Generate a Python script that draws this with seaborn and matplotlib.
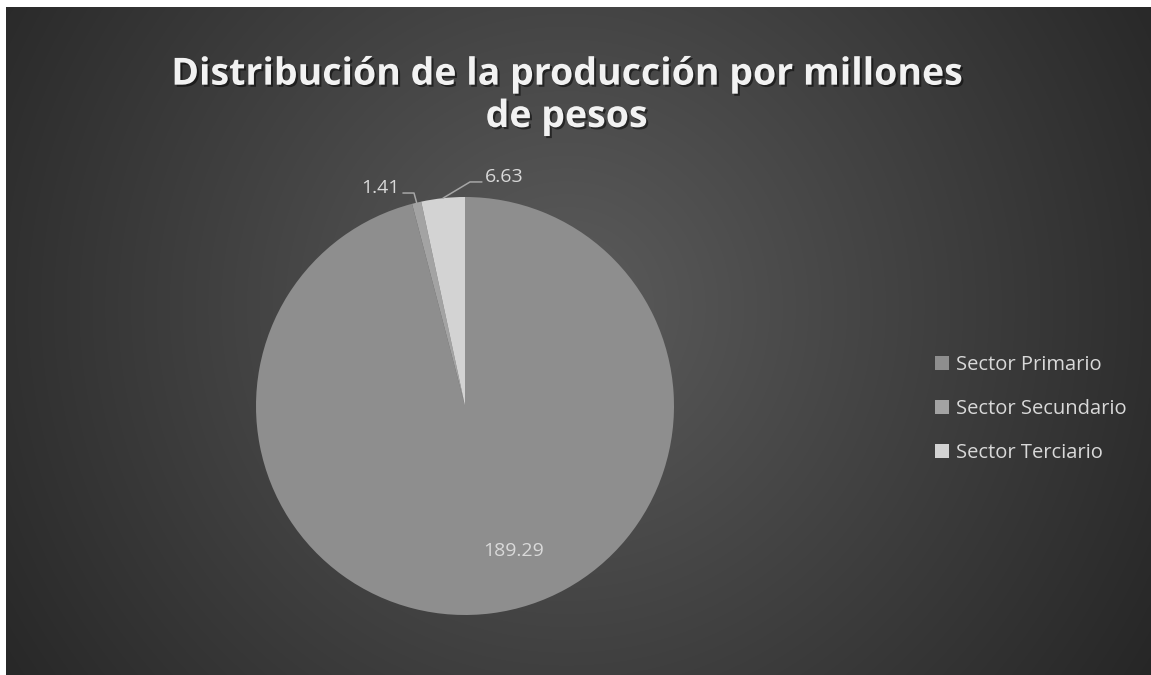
import numpy as np
import matplotlib
matplotlib.use('Agg')
import matplotlib.pyplot as plt
import matplotlib.patheffects as pe
import seaborn as sns

sns.set_style('white')
plt.rcParams['font.family'] = ['Open Sans', 'DejaVu Sans']

sectors = ['Sector Primario', 'Sector Secundario', 'Sector Terciario']
values = [189.29, 1.41, 6.63]
value_labels = ['189.29', '1.41', '6.63']
colors = ['#8e8e8e', '#a3a3a3', '#d3d3d3']

fig = plt.figure(figsize=(11.51, 6.75), dpi=100, facecolor='white')

# radial gradient background (white strip on the left and top like the source)
bg = fig.add_axes([6 / 1151, 0, 1 - 6 / 1151, 1 - 7 / 675])
yy, xx = np.mgrid[0:668, 0:1145]
cx, cy = 560, 300
d = np.sqrt((xx - cx) ** 2 + (yy - cy) ** 2)
d = d / d.max()
shade = 0.36 - 0.21 * d
bg.imshow(np.dstack([shade] * 3), aspect='auto', extent=[0, 1, 0, 1], origin='upper')
bg.set_axis_off()

r = 209
ax = fig.add_axes([(465 - r) / 1151, (675 - 406 - r) / 675, 2 * r / 1151, 2 * r / 675])
wedges, _ = ax.pie(values, colors=colors, startangle=90, counterclock=False,
                   wedgeprops=dict(linewidth=0))
ax.set_aspect('equal')
ax.set_xlim(-1, 1)
ax.set_ylim(-1, 1)
ax.set_axis_off()

lab_color = '#d9d9d9'
line_color = '#a6a6a6'

# primary label inside the slice
w = wedges[0]
mid = np.deg2rad((w.theta1 + w.theta2) / 2)
ax.text(0.72 * np.cos(mid) + 0.14, 0.72 * np.sin(mid) + 0.02, value_labels[0],
        ha='center', va='center', fontsize=14, color=lab_color)

# small slices with leader lines
offsets = [None, (-0.244, 1.019, -0.297, 'right'), (0.024, 1.072, 0.081, 'left')]
for i in (1, 2):
    w = wedges[i]
    mid = np.deg2rad((w.theta1 + w.theta2) / 2)
    x0, y0 = np.cos(mid), np.sin(mid)
    ex, ey, tx, ha = offsets[i]
    ax.plot([x0, ex, tx], [y0, ey, ey], color=line_color, lw=1.1, clip_on=False)
    shift = -0.015 if ha == 'right' else 0.015
    ax.text(tx + shift, ey + 0.025, value_labels[i], ha=ha, va='center',
            fontsize=14, color=lab_color)

fig.text(0.492, 0.858, 'Distribución de la producción por millones\nde pesos',
         ha='center', va='center', fontsize=27, fontweight='bold', color='#f2f2f2',
         linespacing=1.15,
         path_effects=[pe.withSimplePatchShadow(offset=(1.5, -1.5), shadow_rgbFace='black', alpha=0.5)])

leg = fig.legend(wedges, sectors, loc='center left', bbox_to_anchor=(0.797, 0.394),
                 frameon=False, fontsize=14.5, handlelength=0.65, handleheight=0.65,
                 handletextpad=0.35, labelspacing=1.2, labelcolor='#d9d9d9')

fig.savefig('out.png', dpi=100, facecolor='white')
